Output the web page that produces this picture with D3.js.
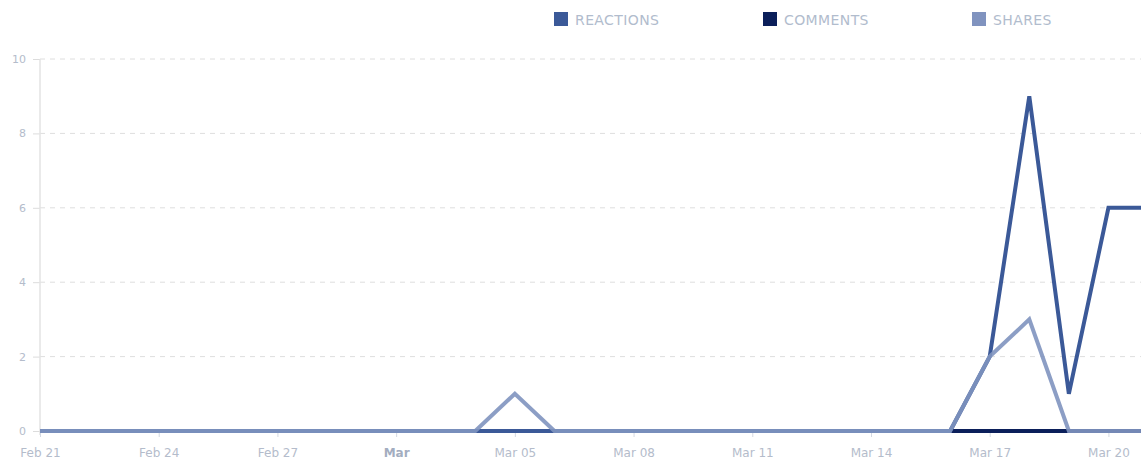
<!DOCTYPE html>
<html>
<head>
<meta charset="utf-8">
<script src="https://cdn.jsdelivr.net/npm/d3@7"></script>
<style>
  body { margin: 0; background: #fff; font-family: Tahoma, "DejaVu Sans", Verdana, sans-serif; }
  svg { display: block; }
</style>
</head>
<body>
<svg id="chart" width="1141" height="462"></svg>
<script>
'use strict';

// one value per day, Feb 21 .. Mar 21
var days = ['2017-02-21', '2017-02-22', '2017-02-23', '2017-02-24', '2017-02-25', '2017-02-26',
    '2017-02-27', '2017-02-28', '2017-03-01', '2017-03-02', '2017-03-03', '2017-03-04',
    '2017-03-05', '2017-03-06', '2017-03-07', '2017-03-08', '2017-03-09', '2017-03-10',
    '2017-03-11', '2017-03-12', '2017-03-13', '2017-03-14', '2017-03-15', '2017-03-16',
    '2017-03-17', '2017-03-18', '2017-03-19', '2017-03-20', '2017-03-21'];
var reactions = [0, 0, 0, 0, 0, 0, 0, 0, 0, 0, 0, 0, 0, 0, 0, 0, 0, 0, 0, 0, 0, 0, 0, 0, 2, 9, 1, 6, 6];
var comments  = [0, 0, 0, 0, 0, 0, 0, 0, 0, 0, 0, 0, 0, 0, 0, 0, 0, 0, 0, 0, 0, 0, 0, 0, 0, 0, 0, 0, 0];
var shares    = [0, 0, 0, 0, 0, 0, 0, 0, 0, 0, 0, 0, 1, 0, 0, 0, 0, 0, 0, 0, 0, 0, 0, 0, 2, 3, 0, 0, 0];
var seriesNames = ['REACTIONS', 'COMMENTS', 'SHARES'];
var seriesColors = ['#3b5998', '#0b1f5a', '#8093bf'];
var tickDays = ['2017-02-21', '2017-02-24', '2017-02-27', '2017-03-02', '2017-03-05',
    '2017-03-08', '2017-03-11', '2017-03-14', '2017-03-17', '2017-03-20'];
var yTicks = [0, 2, 4, 6, 8, 10];

(function () {
    var parse = d3.timeParse('%Y-%m-%d');
    var dates = days.map(parse);
    var tickDates = tickDays.map(parse);

    var svg = d3.select('#chart');
    var padLeft = 40, padTop = 59, padBottom = 431;

    var x = d3.scaleTime()
        .domain([dates[0], dates[dates.length - 1]])
        .range([padLeft, 1148]);
    var y = d3.scaleLinear()
        .domain([0, 10])
        .range([padBottom, padTop]);

    function isMonthStart(d, i) {
        return i > 0 && d.getMonth() !== tickDates[i - 1].getMonth();
    }

    // grid lines
    svg.append('g')
        .selectAll('line')
        .data(yTicks.filter(function (d) { return d > 0; }))
        .enter().append('line')
        .attr('x1', padLeft)
        .attr('x2', 1141)
        .attr('y1', function (d) { return y(d); })
        .attr('y2', function (d) { return y(d); })
        .attr('stroke', '#dedede')
        .attr('stroke-dasharray', '5,5');

    // y axis
    var yAxis = svg.append('g')
        .attr('transform', 'translate(' + padLeft + ',0)')
        .call(d3.axisLeft(y).tickValues(yTicks).tickSize(7).tickPadding(7));
    yAxis.select('.domain').remove();
    yAxis.append('line')
        .attr('x1', 0).attr('x2', 0)
        .attr('y1', padTop).attr('y2', padBottom + 4)
        .attr('stroke', '#e3e3e3')
        .attr('stroke-width', 1.5);
    yAxis.selectAll('.tick line').attr('stroke', '#dcdcdc');
    yAxis.selectAll('.tick text')
        .attr('fill', '#b4bccb')
        .attr('font-size', '11px')
        .attr('font-family', 'Tahoma, "DejaVu Sans", sans-serif');

    // x axis
    var xAxis = svg.append('g')
        .attr('transform', 'translate(0,' + (padBottom + 1) + ')')
        .call(d3.axisBottom(x).tickValues(tickDates).tickSize(5).tickPadding(11)
            .tickFormat(function (d, i) {
                if (isMonthStart(d, i)) {
                    return d3.timeFormat('%b')(d);
                }
                return d3.timeFormat('%b %d')(d);
            }));
    xAxis.select('.domain').remove();
    xAxis.selectAll('.tick line').attr('stroke', '#d4d9e2');
    xAxis.selectAll('.tick text')
        .attr('fill', function (d, i) { return isMonthStart(d, i) ? '#a3adc0' : '#b4bccb'; })
        .attr('font-size', '12px')
        .attr('font-family', 'Tahoma, "DejaVu Sans", sans-serif')
        .attr('font-weight', function (d, i) { return isMonthStart(d, i) ? 'bold' : 'normal'; });

    // lines
    var line = d3.line()
        .x(function (d, i) { return x(dates[i]); })
        .y(function (d) { return y(d); });

    var drawOrder = [
        { values: comments, color: seriesColors[1], opacity: 1 },
        { values: reactions, color: seriesColors[0], opacity: 1 },
        { values: shares, color: seriesColors[2], opacity: 0.9 }
    ];
    svg.append('g')
        .selectAll('path')
        .data(drawOrder)
        .enter().append('path')
        .attr('d', function (d) { return line(d.values); })
        .attr('fill', 'none')
        .attr('stroke', function (d) { return d.color; })
        .attr('stroke-opacity', function (d) { return d.opacity; })
        .attr('stroke-width', 4)
        .attr('stroke-linejoin', 'miter');

    // legend
    var legend = svg.append('g')
        .selectAll('g')
        .data(seriesNames)
        .enter().append('g')
        .attr('transform', function (d, i) { return 'translate(' + (554 + i * 209) + ',12)'; });
    legend.append('rect')
        .attr('width', 14)
        .attr('height', 14)
        .attr('fill', function (d, i) { return seriesColors[i]; });
    legend.append('text')
        .attr('x', 21)
        .attr('y', 12.5)
        .attr('fill', '#b1bccd')
        .attr('font-size', '14px')
        .attr('letter-spacing', '0.4px')
        .attr('font-family', 'Tahoma, "DejaVu Sans", sans-serif')
        .text(function (d) { return d; });
})();
</script>
</body>
</html>
